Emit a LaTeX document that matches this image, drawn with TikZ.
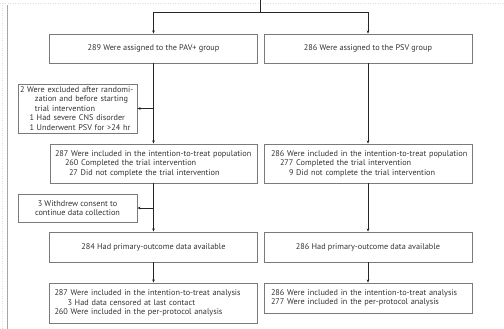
\documentclass[tikz,border=0pt]{standalone}
\usepackage{fontspec}
\setmainfont{PT Sans}
\usetikzlibrary{arrows.meta}
\definecolor{boxline}{HTML}{7A7A7A}
\definecolor{txt}{HTML}{333333}
% one line of a box, shifted right of the box edge by #1 pt
\newcommand\boxline[2]{\hspace*{#1pt}\mbox{#2}}
\tikzset{
  box/.style={draw=boxline, line width=0.8pt, inner xsep=0pt, inner ysep=1pt,
    align=left, text=txt, font=\fontsize{8.25}{9.5}\selectfont},
  cbox/.style={box, inner xsep=2pt, align=center},
  link/.style={draw=black!85, line width=0.55pt},
  arr/.style={link, -{Stealth[length=3.2pt,width=2.6pt]}},
}
\begin{document}
\begin{tikzpicture}[x=1pt,y=-1pt]
\useasboundingbox (0,0) rectangle (504,329);
% faint page frame and left rule
\draw[gray!25, dotted, line width=0.5pt] (0,3) -- (504,3);
\draw[gray!25, dotted, line width=0.5pt] (2,3) -- (2,329);
\draw[gray!70, line width=1pt] (7,5) -- (7,329);

% group boxes
\node[cbox, minimum width=208pt, minimum height=29pt] (A) at (153.5,48.5)
  {289 Were assigned to the PAV+ group};
\node[cbox, minimum width=208pt, minimum height=29pt] (B) at (368,48.5)
  {286 Were assigned to the PSV group};

\node[box, text width=119pt, minimum height=49pt] (X) at (77.5,108.5)
  {\boxline{2}{2 Were excluded after randomi-}\\
   \boxline{17}{zation and before starting}\\
   \boxline{17}{trial intervention}\\
   \boxline{11.5}{1 Had severe CNS disorder}\\
   \boxline{11.5}{1 Underwent PSV for >24 hr}};

\node[box, text width=207pt, minimum height=39pt] (C) at (153.5,163.5)
  {\boxline{5}{287 Were included in the intention-to-treat population}\\
   \boxline{15}{260 Completed the trial intervention}\\
   \boxline{19}{27 Did not complete the trial intervention}};
\node[box, text width=208pt, minimum height=39pt] (D) at (368,163.5)
  {\boxline{7}{286 Were included in the intention-to-treat population}\\
   \boxline{16}{277 Completed the trial intervention}\\
   \boxline{25}{9 Did not complete the trial intervention}};

\node[cbox, minimum width=119pt, minimum height=28pt] (W) at (77.5,208)
  {3 Withdrew consent to\\continue data collection};

\node[cbox, minimum width=208pt, minimum height=30pt] (E) at (153.5,247)
  {284 Had primary-outcome data available};
\node[cbox, minimum width=208pt, minimum height=30pt] (F) at (368,247)
  {286 Had primary-outcome data available};

\node[box, text width=208pt, minimum height=40pt] (G) at (153.5,303)
  {\boxline{5}{287 Were included in the intention-to-treat analysis}\\
   \boxline{18}{3 Had data censored at last contact}\\
   \boxline{5}{260 Were included in the per-protocol analysis}};
\node[box, text width=208pt, minimum height=30pt] (H) at (368,298)
  {\boxline{7}{286 Were included in the intention-to-treat analysis}\\
   \boxline{7}{277 Were included in the per-protocol analysis}};

% randomization split
\coordinate (top) at (260,0);
\draw[link] (top) -- (260,12);
\draw[arr] (260,12) -| (A.north);
\draw[arr] (260,12) -| (B.north);

% flow down each arm
\draw[arr] (A.south) -- (C.north);
\draw[arr] (A.south |- X.east) -- (X.east);
\draw[arr] (C.south) -- (E.north);
\draw[arr] (C.south |- W.east) -- (W.east);
\draw[arr] (E.south) -- (G.north);
\draw[arr] (B.south) -- (D.north);
\draw[arr] (D.south) -- (F.north);
\draw[arr] (F.south) -- (H.north);
\end{tikzpicture}
\end{document}
